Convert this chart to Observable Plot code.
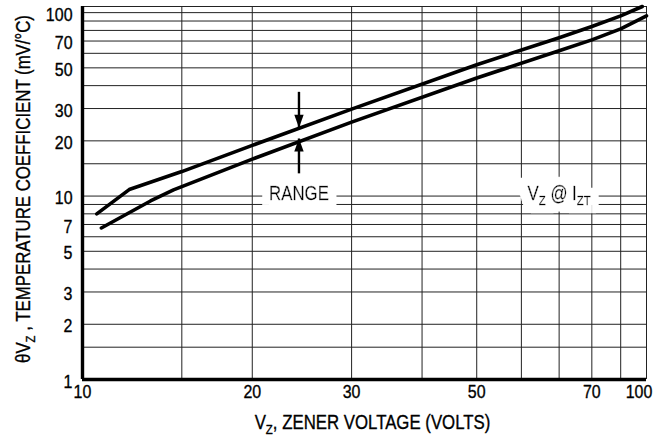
<!DOCTYPE html>
<html><head><meta charset="utf-8">
<script src="https://cdn.jsdelivr.net/npm/d3@7"></script>
<script src="https://cdn.jsdelivr.net/npm/@observablehq/plot@0.6"></script>
<style>body{margin:0;background:#fff} svg{display:block}</style>
</head><body><div id="chart"></div>
<script>
// ---- data ----
const upperVz = [10.6, 12.1, 15, 20, 30, 50, 70, 80, 90, 98.3];
const upperTc = [8.0, 10.85, 13.6, 18.9, 29.8, 52, 73, 84, 96, 108];
const lowerVz = [10.8, 13.2, 14.5, 20, 30, 50, 70, 80, 90, 100];
const lowerTc = [6.7, 9.4, 10.8, 15.9, 25.3, 44, 62, 71, 81.5, 96];
const xDomain = [10, 100];
const yDomain = [1, 108];
const xGrid = [15, 20, 30, 40, 50, 60, 70, 80, 90];
const yGrid = [1.5, 2, 3, 4, 5, 6, 7, 8, 9, 10, 15, 20, 30, 40, 50, 60, 70, 80, 90, 100];
const xTickLabels = ["10", "20", "30", "50", "70", "100"];
const xTickAt = [10, 20, 30, 50, 80, 97];
const yTickLabels = ["1", "2", "3", "5", "7", "10", "20", "30", "50", "70", "100"];
const yTickAt = [1, 2, 3, 5, 7, 10, 20, 30, 50, 70, 100];
const rangeX = 24.2;
const arrowTail = [37, 13.3];
const arrowTip = [23.6, 20.6];
const noteText = ["RANGE", "V{Z} @ I{ZT}"];
const noteX = [24.2, 70];
const noteY = [10.3, 10.3];
const xTitle = "V{Z}, ZENER VOLTAGE (VOLTS)";
const yTitle = "\u03B8V{Z} , TEMPERATURE COEFFICIENT (mV/\u00B0C)";

const FONT = "'Liberation Sans', Arial, Helvetica, sans-serif";
const CONDENSE = 0.84;
const upper = upperVz.map((v, i) => ({x: v, y: upperTc[i]}));
const lower = lowerVz.map((v, i) => ({x: v, y: lowerTc[i]}));

const headDown = {draw(ctx) { ctx.moveTo(0, 0); ctx.lineTo(-4.7, -13); ctx.lineTo(4.7, -13); ctx.closePath(); }};
const headUp = {draw(ctx) { ctx.moveTo(0, 0); ctx.lineTo(-4.7, 13); ctx.lineTo(4.7, 13); ctx.closePath(); }};

const grid = "#222";
const ink = {fill: "#000", stroke: "#000", strokeWidth: 0.35};
const svg = Plot.plot({
  width: 663,
  height: 444,
  marginLeft: 82,
  marginRight: 17,
  marginTop: 6,
  marginBottom: 65,
  style: {fontFamily: FONT, fontSize: "20px", background: "#fff", color: "#000"},
  x: {type: "log", domain: xDomain, axis: null},
  y: {type: "log", domain: yDomain, axis: null},
  marks: [
    Plot.ruleY(yGrid, {stroke: grid, strokeWidth: 1}),
    Plot.ruleX(xGrid, {stroke: grid, strokeWidth: 1}),
    Plot.ruleX([xDomain[1]], {stroke: grid, strokeWidth: 1}),
    Plot.ruleY([yDomain[1]], {stroke: grid, strokeWidth: 1}),
    Plot.text(noteText, {x: noteX, y: noteY, text: d => d, fontSize: 20, ...ink}),
    Plot.line(upper, {x: "x", y: "y", stroke: "#000", strokeWidth: 3.6}),
    Plot.line(lower, {x: "x", y: "y", stroke: "#000", strokeWidth: 3.6}),
    Plot.link([0, 1], {x1: () => rangeX, x2: () => rangeX, y1: i => arrowTail[i], y2: i => arrowTip[i],
      stroke: "#000", strokeWidth: 2.4}),
    Plot.dot([arrowTip[0]], {x: () => rangeX, y: d => d, symbol: headDown, fill: "#000", stroke: "none"}),
    Plot.dot([arrowTip[1]], {x: () => rangeX, y: d => d, symbol: headUp, fill: "#000", stroke: "none"}),
    Plot.ruleX([xDomain[0]], {stroke: "#000", strokeWidth: 3.4}),
    Plot.ruleY([yDomain[0]], {stroke: "#000", strokeWidth: 3.4}),
    Plot.text(yTickLabels, {y: yTickAt, text: d => d, frameAnchor: "left", textAnchor: "end", dx: -10, dy: 2, fontSize: 19, ...ink}),
    Plot.text(xTickLabels, {x: xTickAt, text: d => d, frameAnchor: "bottom", dy: 18.2, fontSize: 19, ...ink}),
    Plot.text([xTitle], {text: d => d, frameAnchor: "bottom", textAnchor: "middle", dx: 8, dy: 49, fontSize: 20, ...ink}),
    Plot.text([yTitle], {text: d => d, frameAnchor: "left", textAnchor: "middle", rotate: -90, dx: -59, dy: -4, fontSize: 20, ...ink})
  ]
});

// white box-shaped halo behind the notes (hides the grid), as one filter per text
const defs = d3.select(svg).insert("defs", ":first-child");
const f = defs.append("filter").attr("id", "note-halo")
  .attr("x", "-50%").attr("y", "-100%").attr("width", "200%").attr("height", "300%");
f.append("feMorphology").attr("in", "SourceAlpha").attr("operator", "dilate").attr("radius", 8).attr("result", "d");
f.append("feFlood").attr("flood-color", "#fff").attr("result", "w");
f.append("feComposite").attr("in", "w").attr("in2", "d").attr("operator", "in").attr("result", "h");
const m = f.append("feMerge");
m.append("feMergeNode").attr("in", "h");
m.append("feMergeNode").attr("in", "SourceGraphic");
d3.select(svg).selectAll("text")
  .filter(function () { return noteText.includes(this.textContent); })
  .attr("filter", "url(#note-halo)");

// turn {..} into subscripts
d3.select(svg).selectAll("text").each(function () {
  const t = this.textContent;
  if (!t.includes("{")) return;
  const sel = d3.select(this);
  sel.text(null);
  const parts = t.split(/(\{[^}]*\})/).filter(s => s.length);
  let wasSub = false;
  for (const p of parts) {
    if (p.startsWith("{")) {
      sel.append("tspan").attr("font-size", "0.68em").attr("dy", 5).text(p.slice(1, -1));
      wasSub = true;
    } else {
      const ts = sel.append("tspan").text(p);
      if (wasSub) ts.attr("dy", -5);
      wasSub = false;
    }
  }
});

document.getElementById("chart").appendChild(svg);

// condensed lettering, like the original Helvetica Condensed
svg.querySelectorAll("text").forEach(t => {
  const L = t.getComputedTextLength();
  if (L > 0) {
    t.setAttribute("textLength", (L * CONDENSE).toFixed(2));
    t.setAttribute("lengthAdjust", "spacingAndGlyphs");
  }
});
</script>
</body></html>
